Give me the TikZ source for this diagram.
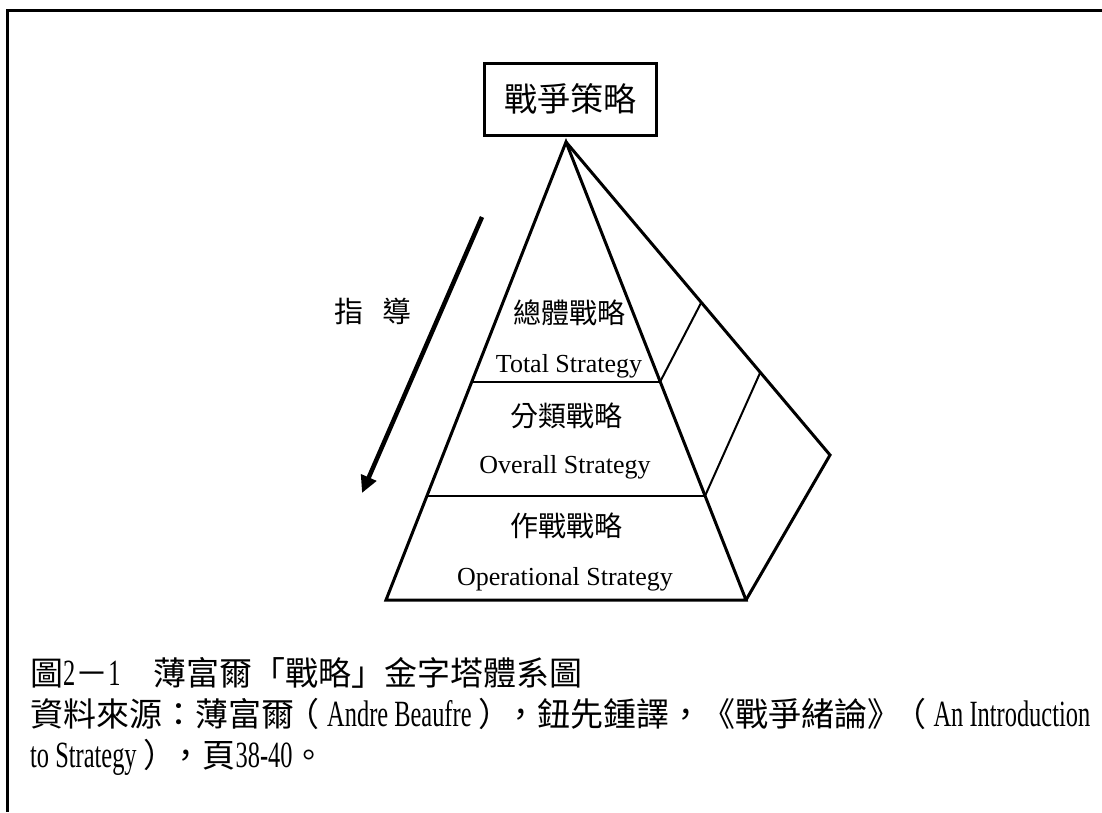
\documentclass[tikz,border=0pt]{standalone}
\usepackage{fontspec}
\setmainfont{Liberation Serif}
\newfontfamily\cjk{Noto Sans CJK TC}
\newfontfamily\narrowrm[FakeStretch=0.66]{Liberation Serif}
\usetikzlibrary{arrows.meta}
\newcommand{\capla}[1]{{\narrowrm\fontsize{37}{37}\selectfont #1}}
\newcommand{\myLP}{\makebox[1em][l]{\hspace{-0.22em}（}}
\newcommand{\myRP}{\makebox[1em][r]{）\hspace{-0.22em}}}
\begin{document}
\begin{tikzpicture}[x=1pt,y=-1pt,
  frame/.style={line width=3pt},
  edge/.style={line width=3pt, line join=miter},
  divider/.style={line width=2pt},
  cjklabel/.style={inner sep=0pt, font=\cjk\fontsize{28}{28}\selectfont},
  enlabel/.style={inner sep=0pt, anchor=base, font=\fontsize{26}{26}\selectfont},
  capline/.style={inner sep=0pt, anchor=base west, font=\cjk\fontsize{33}{33}\selectfont}]
\useasboundingbox (0,0) rectangle (1102,812);
\fill[white] (0,0) rectangle (1102,812);
% outer frame (only top and left visible)
\coordinate (ftr) at (1102,10);
\coordinate (ftl) at (7,10);
\coordinate (fbl) at (7,812);
\draw[frame] (ftr) -- (ftl) -- (fbl);
% top box
\node[draw, line width=3pt, minimum width=172pt, minimum height=72pt, inner sep=0pt,
      font=\cjk\fontsize{33}{33}\selectfont] (box) at (570,99) {戰爭策略};
% pyramid points
\coordinate (A) at (566,142);
\coordinate (L1) at (472,382);
\coordinate (R1) at (660,382);
\coordinate (L2) at (427,496);
\coordinate (R2) at (705,496);
\coordinate (BL) at (386,600);
\coordinate (BR) at (746,600);
\coordinate (F) at (830,455);
\coordinate (P1) at (701,303);
\coordinate (P2) at (760,373);
% pyramid outline
\draw[edge] (A) -- (BL) -- (BR) -- cycle;
\draw[edge] (A) -- (F) -- (BR);
\draw[divider] (L1) -- (R1);
\draw[divider] (L2) -- (R2);
\draw[divider] (R1) -- (P1);
\draw[divider] (R2) -- (P2);
% labels
\node[cjklabel] (t1) at (569,313) {總體戰略};
\node[enlabel] (e1) at (569,372) {Total Strategy};
\node[cjklabel] (t2) at (566,416) {分類戰略};
\node[enlabel] (e2) at (565,473) {Overall Strategy};
\node[cjklabel] (t3) at (566,526) {作戰戰略};
\node[enlabel] (e3) at (565,585) {Operational Strategy};
% guide arrow
\coordinate (gs) at (482,217);
\coordinate (ge) at (362,493);
\draw[line width=4.5pt, -{Triangle[length=17pt,width=16pt]}] (gs) -- (ge);
\node[inner sep=0pt, font=\cjk\fontsize{29}{29}\selectfont] (guide) at (373,311) {指\hspace{0.65em}導};
% caption
\node[capline] (c1) at (30,685) {圖\capla{2}－\capla{1}　薄富爾「戰略」金字塔體系圖};
\node[capline] (c2) at (30,726) {資料來源：薄富爾\myLP\capla{Andre Beaufre}\myRP，鈕先鍾譯，《戰爭緒論》\myLP\capla{An Introduction}};
\node[capline] (c3) at (30,767) {\capla{to Strategy}\myRP，頁\capla{38-40}。};
\end{tikzpicture}
\end{document}
